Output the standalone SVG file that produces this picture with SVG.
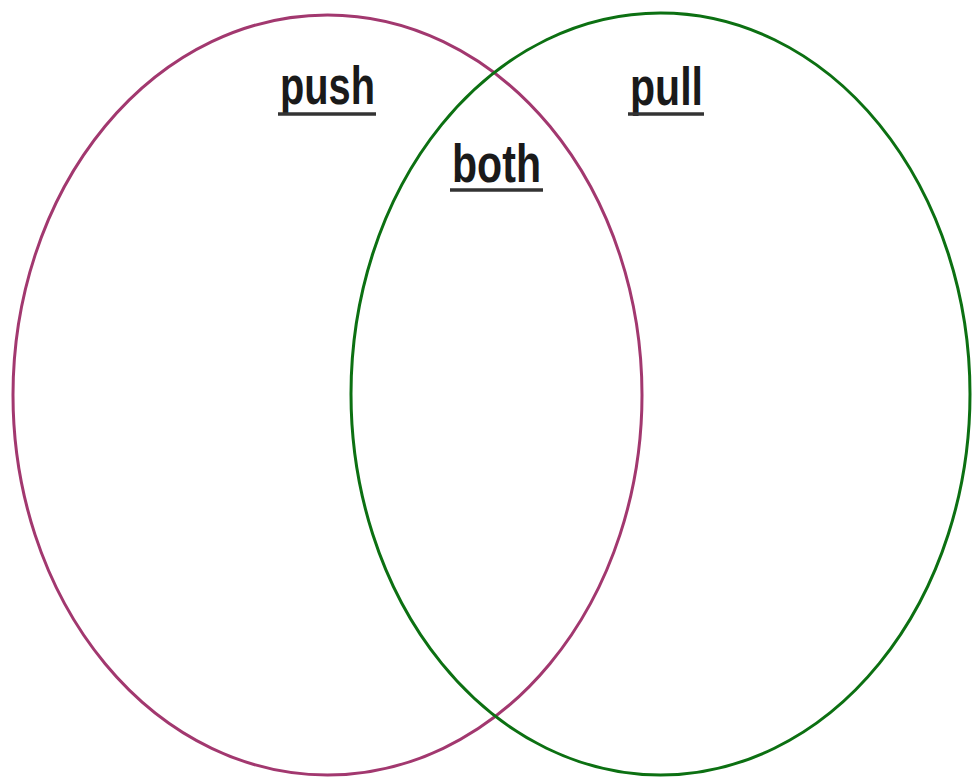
<svg xmlns="http://www.w3.org/2000/svg" width="972" height="778" viewBox="0 0 972 778">
<style>
.lbl{font-family:"Liberation Sans",Arial,sans-serif;font-weight:bold;font-size:54px;fill:#1a1a1a}
.ul{stroke:#333;stroke-width:3.5}
</style>
<rect width="972" height="778" fill="#fff"/>
<g id="push-set">
<ellipse cx="327.5" cy="395" rx="314.5" ry="380" fill="none" stroke="#a2386f" stroke-width="3"/>
</g>
<g id="pull-set">
<ellipse cx="660.5" cy="394" rx="309.5" ry="381" fill="none" stroke="#0c7012" stroke-width="3"/>
</g>
<g id="label-push">
<text class="lbl" x="280" y="104" textLength="95" lengthAdjust="spacingAndGlyphs">push</text>
<line class="ul" x1="278" y1="114" x2="376" y2="114"/>
</g>
<g id="label-both">
<text class="lbl" x="452" y="182" textLength="89" lengthAdjust="spacingAndGlyphs">both</text>
<line class="ul" x1="450" y1="190" x2="543" y2="190"/>
</g>
<g id="label-pull">
<text class="lbl" x="630" y="105" textLength="73" lengthAdjust="spacingAndGlyphs">pull</text>
<line class="ul" x1="628" y1="114" x2="704" y2="114"/>
</g>
</svg>
